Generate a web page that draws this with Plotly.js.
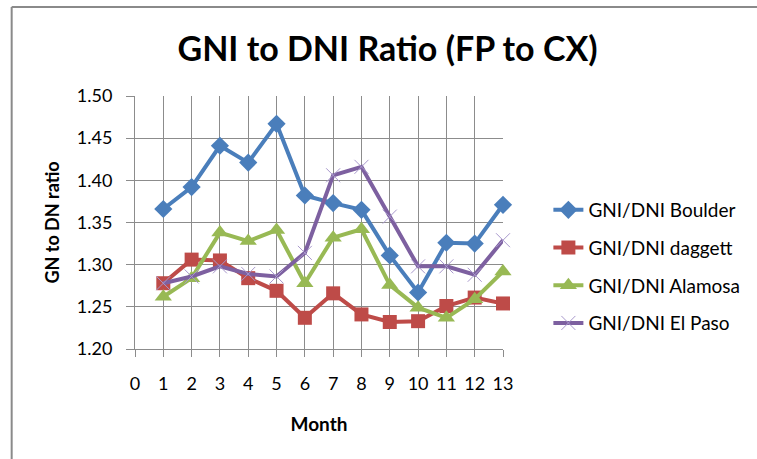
<!DOCTYPE html>
<html>
<head>
<meta charset="utf-8">
<script src="https://cdn.plot.ly/plotly-3.0.1.min.js"></script>
<style>html,body{margin:0;padding:0;background:#fff;}#chart{width:757px;height:459px;}</style>
</head>
<body>
<div id="chart"></div>
<script>
var months = [1,2,3,4,5,6,7,8,9,10,11,12,13];
var boulder = [1.366,1.392,1.441,1.421,1.467,1.382,1.373,1.365,1.311,1.267,1.326,1.325,1.371];
var daggett = [1.278,1.306,1.305,1.284,1.269,1.237,1.266,1.241,1.232,1.233,1.251,1.261,1.254];
var alamosa = [1.262,1.284,1.338,1.328,1.341,1.278,1.332,1.342,1.276,1.249,1.237,1.259,1.292];
var elpaso  = [1.278,1.286,1.298,1.289,1.286,1.314,1.406,1.416,1.357,1.298,1.298,1.288,1.329];
var seriesNames = ['GNI/DNI Boulder','GNI/DNI daggett','GNI/DNI Alamosa','GNI/DNI El Paso'];
var yTickVals = [1.20,1.25,1.30,1.35,1.40,1.45,1.50];

var FONT = 'Lato, "Open Sans", sans-serif';
var L = 135, R = 249, T = 96, B = 110, W = 757, H = 459;
var pw = W - L - R, ph = H - T - B;
function px2x(p){ return (p - L) / pw; }
function py2y(p){ return (H - B - p) / ph; }

var traces = [
  {x: months, y: boulder, name: seriesNames[0], legendgroup: 'a', mode: 'lines+markers', cliponaxis: false,
   line: {color: '#4A7EBB', width: 4}, marker: {symbol: 'diamond', size: 14, color: '#4A7EBB'}},
  {x: months, y: daggett, name: seriesNames[1], legendgroup: 'b', mode: 'lines+markers', cliponaxis: false,
   line: {color: '#BE4B48', width: 4}, marker: {symbol: 'square', size: 14, color: '#BE4B48'}},
  {x: months, y: alamosa, name: seriesNames[2], legendgroup: 'c', mode: 'lines+markers', cliponaxis: false,
   line: {color: '#98B954', width: 4}, marker: {symbol: 'triangle-up', size: 15, color: '#98B954'}},
  {x: months, y: elpaso, name: seriesNames[3], legendgroup: 'd', mode: 'lines+markers', cliponaxis: false,
   line: {color: '#7D60A0', width: 4}, marker: {symbol: 'x-thin-open', size: 14, color: '#A898CC', line: {color: '#A898CC', width: 1}}}
];

var layout = {
  width: W, height: H,
  margin: {l: L, r: R, t: T, b: B},
  paper_bgcolor: '#ffffff', plot_bgcolor: '#ffffff',
  font: {family: FONT, color: '#000000'},
  showlegend: true,
  title: {text: '<b>GNI to DNI Ratio (FP to CX)</b>', font: {family: FONT, size: 34, color: '#000'},
          x: 387.5 / W, xref: 'container', xanchor: 'center', y: 1 - 49 / H, yref: 'container', yanchor: 'middle'},
  xaxis: {
    range: [0, 13], dtick: 1, tick0: 0, showgrid: true, gridcolor: '#8C8C8C', gridwidth: 1,
    zeroline: false, showline: true, linecolor: '#8C8C8C', linewidth: 1,
    ticks: 'outside', ticklen: 7, tickcolor: '#8C8C8C', tickwidth: 1,
    tickfont: {family: FONT, size: 18, color: '#000'}, ticklabelstandoff: 11,
    title: {text: '<b>Month</b>', font: {family: FONT, size: 19, color: '#000'}, standoff: 25}
  },
  yaxis: {
    range: [1.20, 1.50], tickvals: yTickVals, tickformat: '.2f', showgrid: true, gridcolor: '#8C8C8C', gridwidth: 1,
    zeroline: false, showline: true, linecolor: '#8C8C8C', linewidth: 1,
    ticks: 'outside', ticklen: 8, tickcolor: '#8C8C8C', tickwidth: 1,
    tickfont: {family: FONT, size: 18, color: '#000'}, ticklabelstandoff: 10,
    title: {text: '<b>GN to DN ratio</b>', font: {family: FONT, size: 18, color: '#000'}, standoff: 12}
  },
  legend: {
    x: px2x(554), y: py2y(191), xanchor: 'left', yanchor: 'top',
    font: {family: FONT, size: 19, color: '#000'}, traceorder: 'grouped', tracegroupgap: 10,
    bgcolor: 'rgba(0,0,0,0)', borderwidth: 0
  },
  shapes: [
    {type: 'line', xref: 'paper', yref: 'paper', x0: px2x(10), x1: px2x(10), y0: py2y(7), y1: py2y(470), line: {color: '#8A8A8A', width: 2}},
    {type: 'line', xref: 'paper', yref: 'paper', x0: px2x(10), x1: px2x(770), y0: py2y(7), y1: py2y(7), line: {color: '#8A8A8A', width: 2}}
  ]
};

Plotly.newPlot('chart', traces, layout, {displayModeBar: false, staticPlot: true});
</script>
</body>
</html>
